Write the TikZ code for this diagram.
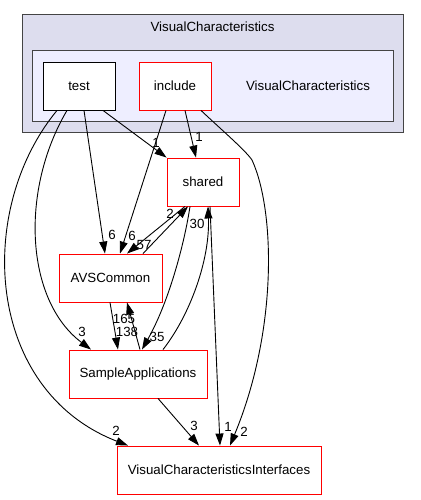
\documentclass[tikz,border=0pt]{standalone}
\usepackage{fontspec}
\setmainfont{Liberation Sans}
\usetikzlibrary{arrows.meta}
\definecolor{outerbg}{HTML}{DDDDEE}
\definecolor{innerbg}{HTML}{EEEEFF}
\definecolor{frame}{HTML}{444444}

\begin{document}
\begin{tikzpicture}[x=1pt,y=-1pt,
    font=\fontsize{13.3}{15}\selectfont,
    cluster/.style={draw=frame, line width=1pt, inner sep=0pt},
    dir/.style={draw=red, fill=white, line width=0.9pt, minimum height=48pt, inner sep=0pt},
    dep/.style={-{Triangle[length=12pt,width=8pt]}, line width=0.9pt},
    num/.style={inner sep=0pt}]
  \useasboundingbox (0,0) rectangle (420,500);

  % clusters
  \node[cluster, fill=outerbg, minimum width=381pt, minimum height=117pt] (outer) at (212.5,73.5) {};
  \node (outerlbl) at (212.5,27) {VisualCharacteristics};
  \node[cluster, fill=innerbg, minimum width=361pt, minimum height=70pt] (inner) at (212.5,86) {};
  \node (innerlbl) at (308,86) {VisualCharacteristics};

  % directories
  \node[dir, draw=black, minimum width=72pt] (test) at (79,86) {test};
  \node[dir, minimum width=72pt] (include) at (175,86) {include};
  \node[dir, minimum width=72pt] (shared) at (203,182) {shared};
  \node[dir, minimum width=103pt] (avs) at (110.5,278) {AVSCommon};
  \node[dir, minimum width=138pt] (sample) at (138,374) {SampleApplications};
  \node[dir, minimum width=204pt] (vci) at (219,470) {VisualCharacteristicsInterfaces};

  % dependencies
  \draw[dep] ([xshift=24pt]test.south) -- (shared.north west) node[num] at (156,143) {1};
  \draw[dep] ([xshift=5pt]test.south) -- ([xshift=-5.5pt]avs.north) node[num] at (112,235) {6};
  \draw[dep] ([xshift=-12pt]test.south) .. controls (20,190) and (25,300) .. ([xshift=-47pt]sample.north)
    node[num] at (82,332) {3};
  \draw[dep] ([xshift=-22pt]test.south) .. controls (-25,210) and (-15,390) .. ([xshift=-91pt]vci.north)
    node[num] at (116,431) {2};
  \draw[dep] ([xshift=10pt]include.south) -- ([xshift=-7pt]shared.north) node[num] at (199,137) {1};
  \draw[dep] ([xshift=-9pt]include.south) -- ([xshift=9.5pt]avs.north) node[num] at (132,236) {6};
  \draw[dep] ([xshift=26pt]include.south) .. controls (225,133) and (245,150) .. (252,160)
    .. controls (275,210) and (278,330) .. ([xshift=11pt]vci.north) node[num] at (244,432) {2};
  \draw[dep] ([xshift=-18pt]shared.south) -- ([xshift=16.5pt]avs.north) node[num] at (144,245) {57};
  \draw[dep] ([xshift=32.5pt]avs.north) -- ([xshift=-15pt]shared.south) node[num] at (170,214) {2};
  \draw[dep] ([xshift=-13pt]shared.south) .. controls (185,240) and (170,300) .. ([xshift=4pt]sample.north)
    node[num] at (157,337) {35};
  \draw[dep] ([xshift=25pt]sample.north) .. controls (190,315) and (210,260) .. ([xshift=5pt]shared.south)
    node[num] at (197,224) {30};
  \draw[dep] ([xshift=7pt]shared.south) -- ([xshift=1pt]vci.north) node[num] at (228,427) {1};
  \draw[dep] ([xshift=-0.5pt]avs.south) -- ([xshift=-20pt]sample.north) node[num] at (127,332) {138};
  \draw[dep] ([xshift=2pt]sample.north) -- ([xshift=16.5pt]avs.south) node[num] at (124,319) {165};
  \draw[dep] ([xshift=20pt]sample.south) -- ([xshift=-20pt]vci.north) node[num] at (194,426) {3};
\end{tikzpicture}
\end{document}
